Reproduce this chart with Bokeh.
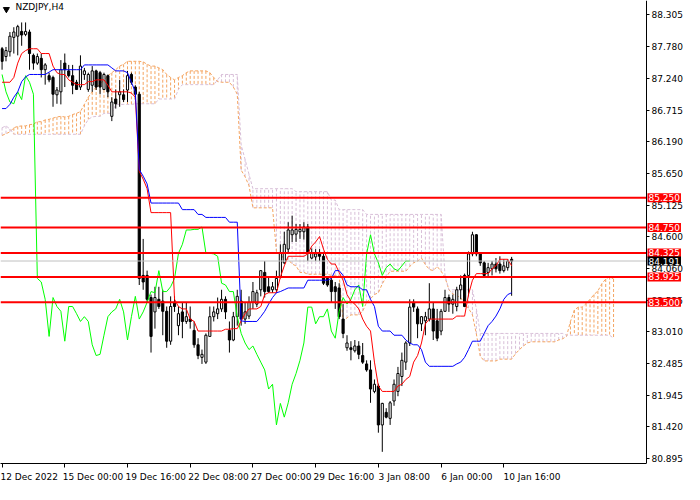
from bokeh.plotting import figure
from bokeh.models import FixedTicker, PrintfTickFormatter, Label
from bokeh.embed import file_html
from bokeh.resources import INLINE

# NZDJPY H4 candles, 12 Dec 2022 .. 11 Jan 2023
opens = [87.74, 87.61, 87.69, 87.93, 87.95, 88.03, 87.98, 88.02, 87.63, 87.50,
         87.58, 87.39, 87.29, 87.26, 86.97, 87.02, 87.50, 87.37, 87.29, 87.18,
         87.10, 87.31, 87.06, 87.13, 87.37, 87.34, 87.06, 87.29, 86.61, 86.90,
         86.97, 86.97, 87.05, 87.31, 87.10, 86.98, 83.95, 83.95, 83.58, 83.34,
         83.55, 83.52, 83.35, 82.85, 83.50, 83.11, 83.34, 83.18, 83.22, 83.03,
         82.79, 82.58, 82.50, 82.93, 83.26, 83.31, 83.39, 83.55, 83.03, 82.87,
         83.26, 83.52, 83.22, 83.27, 83.50, 83.47, 83.71, 84.00, 83.76, 83.71,
         83.71, 83.92, 84.16, 84.39, 84.63, 84.64, 84.68, 84.68, 84.76, 84.24,
         84.26, 84.32, 84.27, 83.90, 83.87, 83.76, 83.74, 83.22, 82.74, 82.74,
         82.69, 82.77, 82.61, 82.47, 82.37, 82.01, 82.10, 81.45, 81.66, 81.56,
         81.85, 82.01, 82.26, 82.50, 82.82, 83.50, 83.39, 83.14, 83.19, 83.22,
         83.39, 83.19, 83.02, 83.35, 83.58, 83.47, 83.43, 83.71, 83.95, 83.95,
         84.31, 84.63, 84.31, 84.16, 84.00, 84.06, 84.14, 84.14, 84.03, 84.08,
         84.22]
highs = [87.77, 87.77, 88.02, 88.10, 88.14, 88.18, 88.18, 88.06, 87.66, 87.66,
         87.66, 87.50, 87.34, 87.29, 87.10, 87.55, 87.66, 87.47, 87.47, 87.22,
         87.63, 87.42, 87.34, 87.45, 87.39, 87.37, 87.34, 87.31, 86.93, 87.06,
         87.22, 87.06, 87.37, 87.34, 87.13, 87.02, 84.56, 84.03, 83.63, 83.76,
         83.76, 83.71, 83.43, 83.60, 83.60, 83.43, 83.50, 83.50, 83.43, 83.18,
         82.90, 82.71, 82.98, 83.43, 83.43, 83.58, 83.71, 83.60, 83.18, 83.34,
         83.71, 83.71, 83.50, 83.60, 83.84, 83.71, 84.03, 84.19, 83.92, 83.84,
         84.03, 84.47, 84.68, 84.84, 84.95, 84.81, 84.81, 84.84, 84.81, 84.40,
         84.39, 84.39, 84.31, 83.92, 83.92, 83.84, 83.82, 83.47, 82.95, 82.85,
         82.87, 82.85, 82.82, 82.53, 82.53, 82.21, 82.14, 81.82, 81.73, 81.85,
         82.21, 82.42, 82.66, 82.85, 83.55, 83.55, 83.43, 83.27, 83.34, 83.82,
         83.50, 83.39, 83.39, 83.71, 83.63, 83.63, 83.76, 83.95, 83.98, 84.35,
         84.68, 84.64, 84.32, 84.19, 84.16, 84.19, 84.24, 84.27, 84.22, 84.22,
         84.26]
lows = [87.39, 87.53, 87.61, 87.66, 87.63, 87.79, 87.95, 87.39, 87.39, 87.47,
        87.26, 87.14, 87.18, 86.77, 86.82, 86.81, 87.10, 87.26, 86.98, 87.05,
        87.05, 87.22, 87.02, 87.02, 87.05, 86.98, 87.05, 86.93, 86.53, 86.74,
        86.77, 86.85, 86.85, 87.14, 86.89, 83.79, 83.71, 83.50, 82.66, 83.06,
        83.39, 82.95, 82.74, 82.79, 83.34, 82.95, 82.90, 83.14, 83.06, 82.74,
        82.55, 82.47, 82.47, 82.93, 83.18, 83.22, 83.34, 83.22, 82.66, 82.85,
        83.11, 83.11, 83.14, 83.22, 83.39, 83.42, 83.60, 83.58, 83.66, 83.66,
        83.66, 83.90, 84.14, 84.31, 84.51, 84.51, 84.56, 84.55, 84.19, 84.22,
        84.19, 84.19, 83.79, 83.76, 83.50, 83.39, 83.22, 82.90, 82.69, 82.53,
        82.66, 82.55, 82.47, 82.34, 81.82, 81.98, 81.32, 81.00, 81.56, 81.45,
        81.77, 81.93, 82.10, 82.37, 82.77, 83.34, 82.90, 83.02, 82.95, 83.18,
        82.87, 82.85, 82.95, 83.34, 83.34, 83.31, 83.35, 83.55, 83.42, 83.60,
        84.27, 84.27, 84.11, 83.92, 83.92, 83.95, 84.00, 83.98, 84.00, 84.03,
        83.61]
closes = [87.53, 87.71, 87.95, 88.02, 88.11, 87.97, 88.03, 87.66, 87.50, 87.61,
          87.39, 87.47, 87.22, 86.98, 87.05, 87.39, 87.39, 87.29, 87.13, 87.06,
          87.45, 87.37, 87.31, 87.37, 87.10, 87.10, 87.31, 87.02, 86.85, 86.82,
          87.02, 86.89, 87.29, 87.18, 86.98, 83.90, 83.84, 83.55, 82.93, 83.58,
          83.43, 83.35, 82.85, 83.43, 83.43, 83.31, 83.18, 83.26, 83.18, 82.79,
          82.61, 82.63, 82.95, 83.26, 83.34, 83.39, 83.55, 83.34, 82.87, 83.26,
          83.60, 83.22, 83.34, 83.50, 83.68, 83.66, 84.03, 83.68, 83.68, 83.76,
          83.90, 84.32, 84.47, 84.71, 84.71, 84.72, 84.72, 84.76, 84.32, 84.32,
          84.31, 84.27, 83.82, 83.79, 83.68, 83.68, 83.26, 82.98, 82.82, 82.71,
          82.77, 82.63, 82.50, 82.37, 82.05, 82.13, 81.45, 81.81, 81.58, 81.82,
          82.13, 82.31, 82.53, 82.82, 83.42, 83.42, 83.14, 83.26, 83.26, 83.39,
          83.02, 82.90, 83.35, 83.58, 83.47, 83.55, 83.71, 83.79, 83.43, 84.31,
          84.63, 84.31, 84.16, 83.95, 84.08, 84.14, 84.06, 84.03, 84.11, 84.19,
          84.19]

# Ichimoku (9, 26, 52)
tenkan = [87.18, 87.18, 87.18, 87.26, 87.50, 87.66, 87.71, 87.74, 87.74, 87.74,
          87.66, 87.66, 87.66, 87.45, 87.34, 87.31, 87.31, 87.22, 87.18, 87.14,
          87.14, 87.14, 87.19, 87.19, 87.22, 87.22, 87.22, 87.13, 87.02, 87.02,
          87.02, 87.02, 87.02, 87.00, 86.93, 85.69, 85.56, 85.40, 85.00, 85.00,
          85.00, 85.00, 85.00, 85.00, 83.55, 83.43, 83.39, 83.39, 83.22, 83.18,
          83.02, 83.02, 83.02, 83.02, 83.02, 83.02, 83.02, 83.05, 83.05, 83.06,
          83.06, 83.19, 83.31, 83.39, 83.39, 83.39, 83.43, 83.63, 83.66, 83.66,
          83.66, 83.92, 84.11, 84.27, 84.27, 84.27, 84.27, 84.27, 84.31, 84.44,
          84.51, 84.60, 84.39, 84.22, 84.14, 84.14, 84.00, 83.87, 83.63, 83.52,
          83.47, 83.39, 83.22, 83.10, 83.02, 82.50, 82.10, 82.01, 82.01, 82.01,
          82.01, 82.10, 82.13, 82.21, 82.26, 82.50, 82.61, 82.82, 83.14, 83.22,
          83.22, 83.22, 83.22, 83.22, 83.22, 83.22, 83.27, 83.27, 83.27, 83.63,
          83.87, 83.98, 83.98, 83.98, 83.98, 84.06, 84.11, 84.22, 84.22, 84.22,
          84.11]
kijun = [86.74, 86.74, 86.81, 86.93, 87.02, 87.19, 87.27, 87.31, 87.31, 87.31,
         87.31, 87.31, 87.35, 87.39, 87.39, 87.39, 87.39, 87.39, 87.39, 87.39,
         87.39, 87.47, 87.47, 87.47, 87.47, 87.47, 87.47, 87.47, 87.42, 87.37,
         87.37, 87.37, 87.34, 87.18, 87.02, 85.72, 85.61, 85.48, 85.16, 85.16,
         85.16, 85.16, 85.16, 85.16, 85.16, 85.16, 85.05, 85.05, 85.05, 85.05,
         84.97, 84.97, 84.92, 84.92, 84.92, 84.92, 84.92, 84.92, 84.84, 84.84,
         84.84, 83.19, 83.18, 83.18, 83.18, 83.18, 83.26, 83.35, 83.47, 83.58,
         83.66, 83.68, 83.71, 83.74, 83.74, 83.74, 83.74, 83.74, 83.87, 83.87,
         83.87, 83.87, 83.87, 83.87, 83.90, 84.03, 84.03, 83.95, 83.79, 83.76,
         83.76, 83.76, 83.71, 83.71, 83.55, 83.43, 83.10, 83.02, 83.02, 83.02,
         82.95, 82.95, 82.95, 82.87, 82.82, 82.79, 82.79, 82.71, 82.50, 82.43,
         82.43, 82.43, 82.43, 82.43, 82.43, 82.43, 82.47, 82.50, 82.58, 82.71,
         82.85, 82.85, 82.85, 82.98, 83.11, 83.18, 83.27, 83.39, 83.55, 83.63,
         83.66]
span_a = [86.29, 86.32, 86.35, 86.42, 86.44, 86.45, 86.45, 86.47, 86.48, 86.52,
          86.52, 86.55, 86.56, 86.58, 86.60, 86.61, 86.60, 86.61, 86.64, 86.66,
          86.69, 86.81, 86.93, 87.02, 87.10, 87.14, 87.22, 87.29, 87.34, 87.39,
          87.45, 87.48, 87.53, 87.53, 87.53, 87.53, 87.52, 87.48, 87.45, 87.45,
          87.42, 87.39, 87.31, 87.26, 87.22, 87.26, 87.29, 87.34, 87.37, 87.37,
          87.37, 87.37, 87.37, 87.34, 87.26, 87.19, 87.18, 87.18, 87.18, 87.10,
          86.98, 85.71, 85.60, 85.45, 85.08, 85.08, 85.08, 85.08, 85.08, 85.08,
          84.35, 84.31, 84.22, 84.22, 84.14, 84.11, 84.00, 84.00, 83.97, 83.97,
          83.97, 83.97, 83.97, 83.97, 83.95, 83.95, 83.95, 83.19, 83.24, 83.29,
          83.29, 83.29, 83.35, 83.50, 83.56, 83.63, 83.66, 83.81, 83.92, 84.02,
          84.02, 84.02, 84.02, 84.02, 84.10, 84.16, 84.19, 84.24, 84.13, 84.05,
          84.03, 84.10, 84.02, 83.92, 83.71, 83.64, 83.61, 83.58, 83.47, 83.40,
          83.29, 82.97, 82.60, 82.52, 82.52, 82.52, 82.52, 82.55, 82.55, 82.55,
          82.55, 82.64, 82.71, 82.77, 82.82, 82.84, 82.84, 82.84, 82.84, 82.84,
          82.84, 82.84, 82.87, 82.89, 82.93, 83.18, 83.37, 83.42, 83.42, 83.48,
          83.55, 83.63, 83.69, 83.81, 83.89, 83.93, 83.89]
span_b = [86.42, 86.45, 86.40, 86.31, 86.31, 86.31, 86.31, 86.31, 86.31, 86.31,
          86.31, 86.31, 86.31, 86.31, 86.31, 86.31, 86.31, 86.31, 86.31, 86.31,
          86.31, 86.45, 86.56, 86.60, 86.61, 86.61, 86.66, 86.66, 86.66, 86.81,
          86.81, 86.81, 86.81, 86.81, 86.82, 86.82, 86.82, 86.82, 86.82, 86.82,
          86.90, 86.90, 86.90, 86.90, 86.90, 87.06, 87.14, 87.14, 87.14, 87.14,
          87.14, 87.14, 87.14, 87.14, 87.14, 87.22, 87.31, 87.31, 87.31, 87.31,
          87.31, 86.13, 85.89, 85.64, 85.40, 85.40, 85.40, 85.40, 85.40, 85.40,
          85.40, 85.40, 85.40, 85.40, 85.40, 85.35, 85.35, 85.35, 85.35, 85.35,
          85.35, 85.35, 85.35, 85.35, 85.21, 85.21, 85.05, 85.05, 85.05, 85.05,
          85.05, 85.05, 85.05, 84.97, 84.97, 84.97, 84.97, 84.97, 84.97, 84.97,
          84.97, 84.97, 84.97, 84.97, 84.97, 84.97, 84.97, 84.97, 84.97, 84.97,
          84.97, 84.97, 84.97, 83.95, 83.71, 83.71, 83.71, 83.71, 83.71, 83.71,
          83.71, 83.39, 82.98, 82.98, 82.98, 82.98, 82.98, 82.98, 82.98, 82.98,
          82.98, 82.98, 82.98, 82.98, 82.98, 82.98, 82.98, 82.98, 82.98, 82.98,
          82.98, 82.98, 82.98, 82.98, 82.95, 82.95, 82.95, 82.95, 82.95, 82.95,
          82.95, 82.95, 82.95, 82.95, 82.95, 82.95, 82.90]

levels = [85.250, 84.750, 84.325, 83.925, 83.500]
last_price = 84.191

price_ticks = [88.305, 87.780, 87.240, 86.715, 86.190, 85.650, 85.125, 84.600,
               84.060, 83.535, 83.010, 82.485, 81.945, 81.420, 80.895]
time_ticks = [0, 16, 32, 48, 64, 80, 96, 112, 128]
time_labels = ["12 Dec 2022", "15 Dec 00:00", "19 Dec 16:00", "22 Dec 08:00",
               "27 Dec 00:00", "29 Dec 16:00", "3 Jan 08:00", "6 Jan 00:00",
               "10 Jan 16:00"]
# label centres, so that each date text starts just right of its tick
label_pos = [6.4, 23.2, 39.2, 55.2, 71.2, 87.2, 102.6, 118.6, 135.2]

FONT = "DejaVu Sans"
idx = list(range(len(closes)))
cloud_idx = list(range(len(span_a)))
X_AXIS_AT = 164.4    # bar position of the price scale

p = figure(width=684, height=484, x_range=(-0.4, 174.1), y_range=(80.805, 88.547),
           output_backend="svg", toolbar_location=None, y_axis_location="right",
           min_border_left=0, min_border_top=0, min_border_right=0, min_border_bottom=0)
p.outline_line_color = None
p.xgrid.visible = False
p.ygrid.visible = False

for ax in (p.xaxis[0], p.yaxis[0]):
    ax.axis_line_color = "black"
    ax.major_tick_line_color = "black"
    ax.major_tick_in = 0
    ax.minor_tick_in = 0
    ax.major_label_text_font = FONT
    ax.major_label_text_font_size = "9px"
    ax.major_label_text_color = "black"

# price scale sits inside the frame so that the level tags can cover it
p.yaxis.fixed_location = X_AXIS_AT
p.yaxis.major_tick_out = 3
p.yaxis.major_label_standoff = 2
p.yaxis.minor_tick_line_color = None
p.yaxis.ticker = FixedTicker(ticks=price_ticks)
p.yaxis.formatter = PrintfTickFormatter(format="%.3f")

p.xaxis.bounds = (-0.4, X_AXIS_AT)
p.xaxis.ticker = FixedTicker(ticks=label_pos, minor_ticks=time_ticks)
p.xaxis.major_label_overrides = dict(zip(label_pos, time_labels))
p.xaxis.major_tick_out = 0
p.xaxis.minor_tick_out = 4
p.xaxis.minor_tick_line_color = "black"
p.xaxis.major_label_standoff = 4

# kumo: dotted hatch between the spans
kumo_color = ["#F4A460" if a >= b else "#D8BFD8" for a, b in zip(span_a, span_b)]
p.segment(x0=cloud_idx, y0=span_a, x1=cloud_idx, y1=span_b,
          line_color=kumo_color, line_width=1, line_dash="3 2")
p.line(cloud_idx, span_a, line_color="#F4A460", line_width=1, line_dash="3 2")
p.line(cloud_idx, span_b, line_color="#D8BFD8", line_width=1, line_dash="3 2")

# candles
body_top = [max(o, c) for o, c in zip(opens, closes)]
body_bot = [min(o, c) for o, c in zip(opens, closes)]
body_fill = ["white" if c >= o else "black" for o, c in zip(opens, closes)]
p.segment(x0=idx, y0=highs, x1=idx, y1=lows, line_color="black", line_width=1)
p.vbar(x=idx, width=0.55, top=body_top, bottom=body_bot,
       fill_color=body_fill, line_color="black", line_width=1)

# chikou, tenkan, kijun
p.line(idx[:-26], closes[26:], line_color="#00FF00", line_width=1)
p.line(idx, tenkan, line_color="#FF0000", line_width=1)
p.line(idx, kijun, line_color="#0000FF", line_width=1)

# bid line and support / resistance levels, stopped at the price scale
p.segment(x0=[-0.4], y0=[last_price], x1=[X_AXIS_AT], y1=[last_price],
          line_color="#C0C0C0", line_width=1)
p.segment(x0=[-0.4] * len(levels), y0=levels, x1=[X_AXIS_AT] * len(levels), y1=levels,
          line_color="#FF0000", line_width=2)


def price_tag(y, bg):
    return Label(x=X_AXIS_AT, y=y, x_offset=1, text="%.3f" % y, text_font=FONT,
                 text_font_size="9px", text_color="white", text_baseline="middle",
                 background_fill_color=bg, padding=1)


for lv in levels:
    p.add_layout(price_tag(lv, "#FF0000"))
p.add_layout(price_tag(last_price, "black"))

# symbol caption
p.scatter([1.1], [88.40], marker="inverted_triangle", size=6, color="black")
p.add_layout(Label(x=3.4, y=88.52, text="NZDJPY,H4", text_font=FONT, text_font_size="9px",
                   text_color="black", text_baseline="top"))

open("out.html", "w").write(file_html(p, INLINE))
